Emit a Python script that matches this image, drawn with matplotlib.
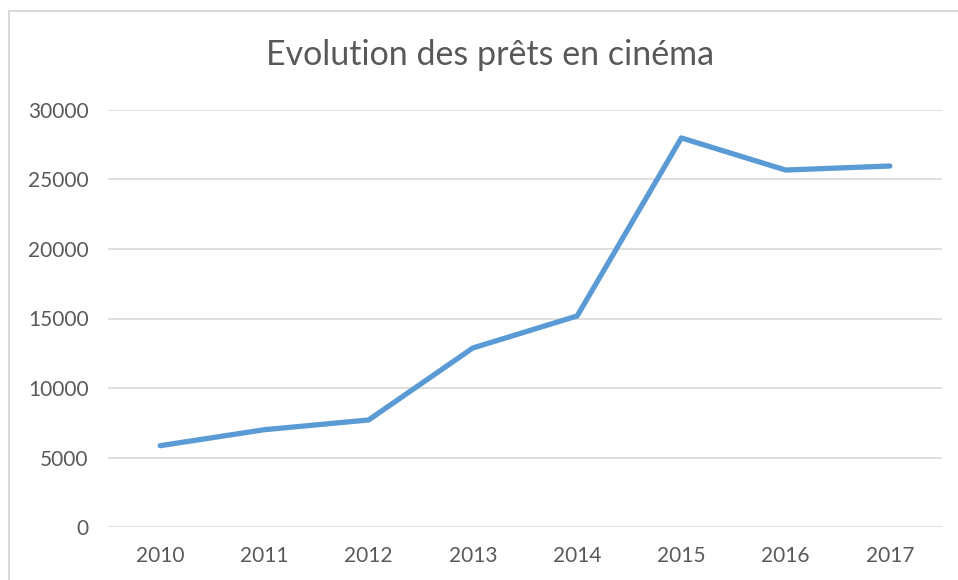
import matplotlib
matplotlib.use('Agg')
import matplotlib.pyplot as plt
from matplotlib.patches import Rectangle

# Data
years = ['2010', '2011', '2012', '2013', '2014', '2015', '2016', '2017']
loans = [5850, 7000, 7700, 12880, 15180, 27990, 25680, 25970]

plt.rcParams['font.family'] = ['Lato', 'DejaVu Sans']

fig = plt.figure(figsize=(9.58, 5.8), dpi=100)
ax = fig.add_axes([108 / 958, 1 - 527 / 580, 834 / 958, 417 / 580])

x = range(len(years))
ax.plot(x, loans, color='#5b9bd5', linewidth=3.8, solid_capstyle='round', zorder=3)

ax.set_xlim(-0.5, len(years) - 0.5)
ax.set_ylim(0, 30000)
ax.set_yticks(range(0, 30001, 5000))
ax.set_xticks(list(x))
ax.set_xticklabels(years)

ax.grid(axis='y', color='#d9d9d9', linewidth=1.2)
for s in ax.spines.values():
    s.set_visible(False)
ax.tick_params(length=0, labelsize=15, colors='#595959')
ax.tick_params(axis='y', pad=14)
ax.tick_params(axis='x', pad=14)

fig.text(490 / 958, 1 - 55 / 580, 'Evolution des prêts en cinéma',
         ha='center', va='center', fontsize=24.5, color='#595959')

# chart border
fig.patches.append(Rectangle((9 / 958, -0.05), 1.1, 1.05 - 11 / 580,
                             transform=fig.transFigure, fill=False,
                             edgecolor='#d9d9d9', linewidth=1.5))

fig.savefig('out.png', dpi=100)
